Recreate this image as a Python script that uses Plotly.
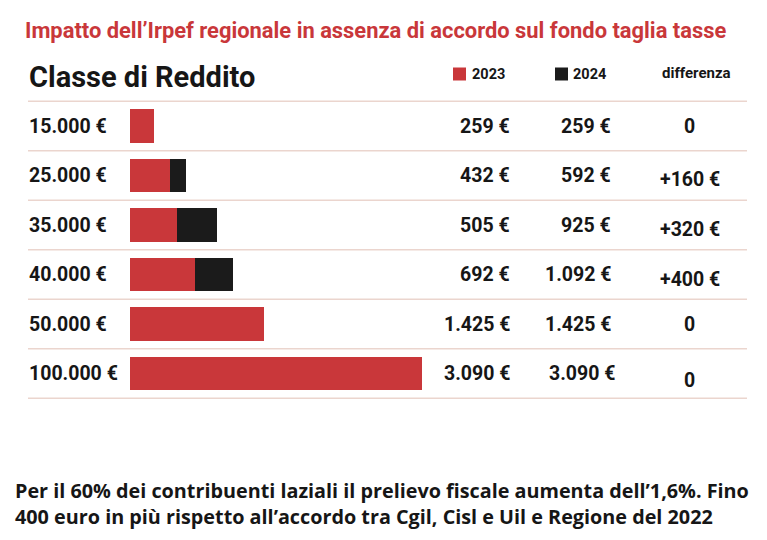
import plotly.graph_objects as go

categories = ["15.000 €", "25.000 €", "35.000 €", "40.000 €", "50.000 €", "100.000 €"]
val_2023 = [259, 432, 505, 692, 1425, 3090]
val_2024 = [259, 592, 925, 1092, 1425, 3090]
diff_labels = ["0", "+160 €", "+320 €", "+400 €", "0", "0"]
lab_2023 = ["259 €", "432 €", "505 €", "692 €", "1.425 €", "3.090 €"]
lab_2024 = ["259 €", "592 €", "925 €", "1.092 €", "1.425 €", "3.090 €"]

RED = "#c9373a"
BLACK = "#1b1b1b"
LINE = "#ebd5ce"
TXT = "#161616"
W, H = 767, 540
F = "Roboto, Lato, sans-serif"
FOOT = "Open Sans, Noto Sans, sans-serif"

ys = list(range(len(categories)))
extra = [b - a for a, b in zip(val_2023, val_2024)]

fig = go.Figure()
fig.add_trace(go.Bar(y=ys, x=val_2023, orientation="h", marker=dict(color=RED, line=dict(width=0)),
                     width=0.68, hoverinfo="skip"))
fig.add_trace(go.Bar(y=ys, x=extra, orientation="h", marker=dict(color=BLACK, line=dict(width=0)),
                     width=0.68, hoverinfo="skip"))

row_h = 49.5
top = 126
fig.update_layout(
    width=W, height=H, margin=dict(l=0, r=0, t=0, b=0),
    paper_bgcolor="white", plot_bgcolor="white", barmode="stack", showlegend=False,
    xaxis=dict(domain=[129.5 / W, 422 / W], range=[0, max(val_2024)], visible=False, fixedrange=True),
    yaxis=dict(domain=[0, 1], range=[(H - top) / row_h, -top / row_h], visible=False, fixedrange=True),
)

def px(x):
    return x / W

shapes = []
for i in range(len(categories) + 1):
    shapes.append(dict(type="line", xref="paper", yref="y", x0=px(28), x1=px(747),
                       y0=i - 0.5, y1=i - 0.5, line=dict(color=LINE, width=1.3)))
# legend squares
shapes.append(dict(type="rect", xref="paper", yref="paper", x0=px(453), x1=px(466),
                   y0=1 - 80.5 / H, y1=1 - 67.5 / H, fillcolor=RED, line=dict(width=0)))
shapes.append(dict(type="rect", xref="paper", yref="paper", x0=px(555), x1=px(568),
                   y0=1 - 80.5 / H, y1=1 - 67.5 / H, fillcolor=BLACK, line=dict(width=0)))
fig.update_layout(shapes=shapes)

ann = []
def add(text, x, ypix=None, y=None, size=18, color=TXT, xanchor="left", family=F):
    t = f"<b>{text}</b>"
    if ypix is not None:
        ann.append(dict(text=t, x=px(x), y=1 - ypix / H, xref="paper", yref="paper", xanchor=xanchor,
                        yanchor="middle", showarrow=False, font=dict(size=size, color=color, family=family)))
    else:
        ann.append(dict(text=t, x=px(x), y=y, xref="paper", yref="y", xanchor=xanchor,
                        yanchor="middle", showarrow=False, font=dict(size=size, color=color, family=family)))

add("Impatto dell’Irpef regionale in assenza di accordo sul fondo taglia tasse", 23, ypix=31, size=21.9, color=RED)
add("Classe di Reddito", 27, ypix=77, size=29)
add("2023", 470, ypix=74.5, size=14.5)
add("2024", 571, ypix=74.5, size=14.5)
add("differenza", 660, ypix=73, size=15)

NS = 19.5
v_off_diff = [0.02, 0.08, 0.1, 0.11, 0.0, 0.14]
for i in ys:
    add(categories[i], 27, y=i, size=NS)
    add(lab_2023[i], 512, y=i, size=NS, xanchor="right")
    add(lab_2024[i], 613 if i < 5 else 617, y=i, size=NS, xanchor="right")
    if diff_labels[i] == "0":
        add(diff_labels[i], 689, y=i + v_off_diff[i], size=NS, xanchor="center")
    else:
        add(diff_labels[i], 722, y=i + v_off_diff[i], size=NS, xanchor="right")

add("Per il 60% dei contribuenti laziali il prelievo fiscale aumenta dell’1,6%. Fino", 13, ypix=490, size=19.8, family=FOOT)
add("400 euro in più rispetto all’accordo tra Cgil, Cisl e Uil e Regione del 2022", 13, ypix=516, size=19.8, family=FOOT)

fig.update_layout(annotations=ann)
fig.write_html("out.html", config=dict(displayModeBar=False, staticPlot=True))
